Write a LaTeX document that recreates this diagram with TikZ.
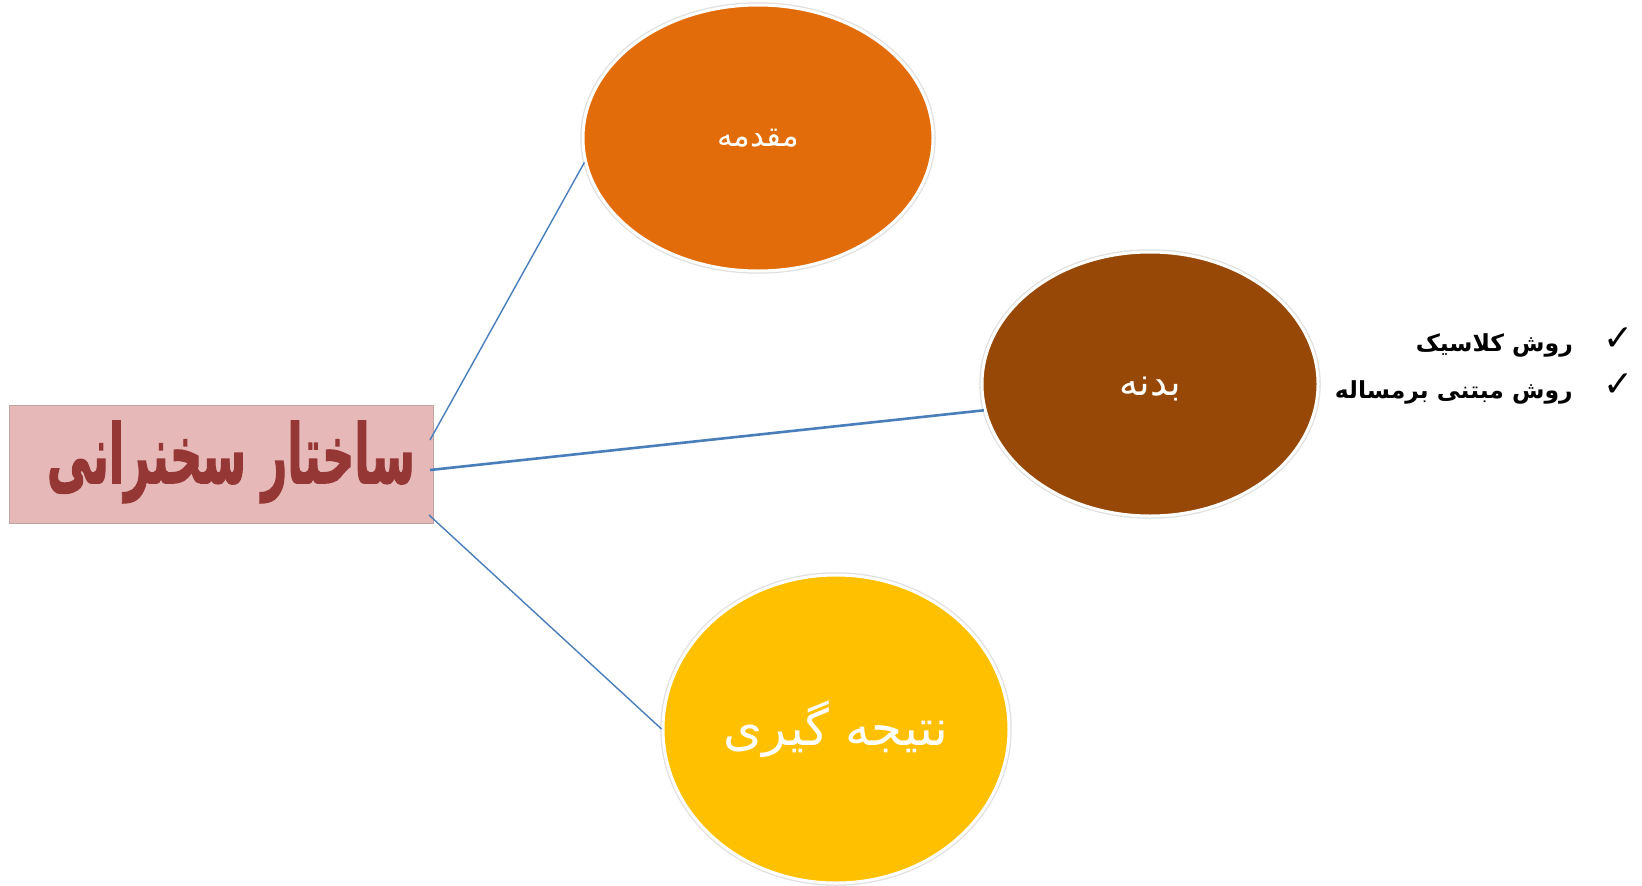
\documentclass[tikz,border=0pt]{standalone}
\usepackage{fontspec}
\usetikzlibrary{shapes.geometric}
\TeXXeTstate=1
\newfontfamily\arabicfont[Script=Arabic]{DejaVu Sans}
\newfontfamily\titlefont[Script=Arabic,FakeBold=2]{DejaVu Sans Bold}
\newfontfamily\symfont{DejaVu Sans}
\definecolor{boxfill}{HTML}{E6B8B7}
\definecolor{boxline}{HTML}{C0A4A4}
\definecolor{titlered}{HTML}{953735}
\definecolor{orangeA}{HTML}{E36C0A}
\definecolor{brownA}{HTML}{974806}
\definecolor{goldA}{HTML}{FFC000}
\definecolor{linkblue}{HTML}{4A7EBB}
\tikzset{
  bubble/.style={ellipse, inner sep=0pt, text=white, draw=white, line width=3pt,
    preaction={draw=black!12, line width=5.5pt}},
  link/.style={draw=linkblue, line width=1.4pt},
  thicklink/.style={draw=linkblue, line width=2.6pt},
  bullettext/.style={anchor=east, inner sep=0pt, font=\arabicfont\bfseries\fontsize{23.5}{28}\selectfont},
  tick/.style={inner sep=0pt, font=\symfont\bfseries\fontsize{36}{40}\selectfont}
}
\begin{document}
\begin{tikzpicture}[x=1pt,y=-1pt]
\useasboundingbox[fill=white] (0,0) rectangle (1642,886);
% title box
\node[rectangle, fill=boxfill, draw=boxline, line width=1pt, minimum width=424pt, minimum height=118pt, inner sep=0pt] (box) at (221,464) {};
\node[text=titlered, inner sep=0pt, font=\titlefont\fontsize{50}{60}\selectfont] (title) at (231,462) {\resizebox{368pt}{62pt}{\beginR ساختار سخنرانی\endR}};
% ellipses
\node[bubble, fill=orangeA, minimum width=350pt, minimum height=266pt, font=\arabicfont\fontsize{31}{36}\selectfont] (intro) at (758,138) {\beginR مقدمه\endR};
\node[bubble, fill=brownA, minimum width=336pt, minimum height=264pt,
  label={[text=white, inner sep=0pt, yshift=-5pt, font=\arabicfont\fontsize{38}{44}\selectfont]center:\beginR بدنه\endR}] (body) at (1150,384) {};
\node[bubble, fill=goldA, minimum width=346pt, minimum height=308pt, font=\arabicfont\fontsize{50}{58}\selectfont] (concl) at (836,729) {\beginR نتیجه گیری\endR};
% connectors
\coordinate (s1) at (430,440);
\coordinate (s2) at (430,470);
\coordinate (s3) at (429,515);
\draw[link] (s1) -- (intro.188);
\draw[thicklink] (s2) -- (body.189);
\draw[link] (s3) -- (concl.180);
% bullets
\node[bullettext] (b1) at (1573,345) {\beginR روش کلاسیک\endR};
\node[bullettext] (b2) at (1573,392) {\beginR روش مبتنی برمساله\endR};
\node[tick] (t1) at (1619,339) {✓};
\node[tick] (t2) at (1619,385) {✓};
\end{tikzpicture}
\end{document}
